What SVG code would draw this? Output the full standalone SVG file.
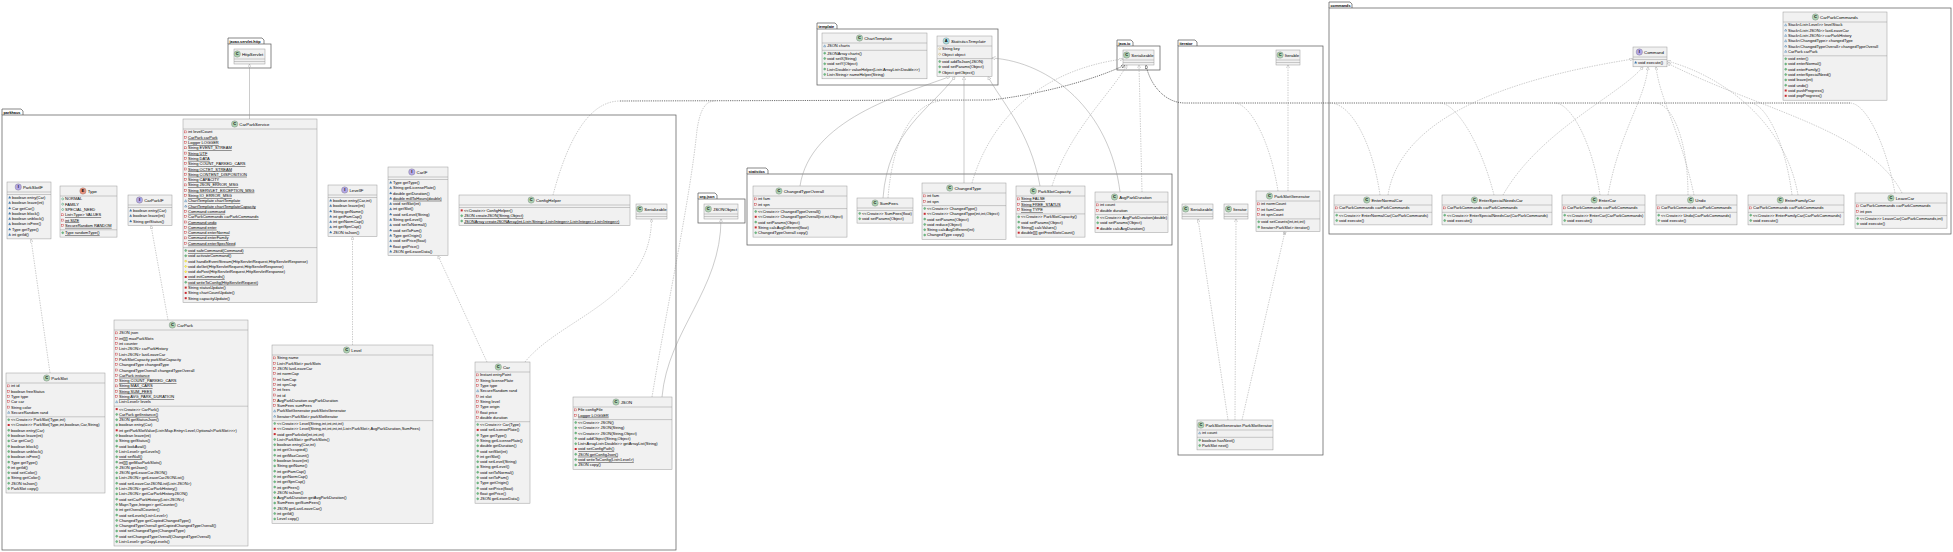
<svg xmlns="http://www.w3.org/2000/svg" xmlns:xlink="http://www.w3.org/1999/xlink" width="1953" height="552" viewBox="0 0 1953 552">
<style>
.b{fill:#F1F1F1;stroke:#9A9A9A;stroke-width:.5}
.s{stroke:#9A9A9A;stroke-width:.5}
.h{font-family:"Liberation Sans",Arial,sans-serif;font-size:4.3px;fill:#000}
.t{font-family:"Liberation Sans",Arial,sans-serif;font-size:4px;fill:#000}
.u{text-decoration:underline}
.it{font-style:italic}
.pk{fill:none;stroke:#555;stroke-width:.7}
.tab{fill:#fff;stroke:#555;stroke-width:.7}
.pl{font-family:"Liberation Sans",Arial,sans-serif;font-size:3.8px;font-weight:bold;fill:#000}
.c{fill:none;stroke:#8C8C8C;stroke-width:.45}
.d{stroke-dasharray:1.4 1.1}
.bd{fill:none;stroke:#333;stroke-width:.7;stroke-dasharray:1.2 1}
.il{font-family:"Liberation Sans",Arial,sans-serif;font-size:4px;font-weight:bold;fill:#000;text-anchor:middle}
</style>
<defs>
<marker id="t" viewBox="0 0 10 10" refX="9.5" refY="5" markerWidth="3.6" markerHeight="3.6" markerUnits="userSpaceOnUse" orient="auto"><path d="M0.5,0.5 L9.5,5 L0.5,9.5 Z" fill="#fff" stroke="#888" stroke-width="0.9"/></marker>
<marker id="td" viewBox="0 0 10 10" refX="9.5" refY="5" markerWidth="3.8" markerHeight="3.8" markerUnits="userSpaceOnUse" orient="auto"><path d="M0.5,0.5 L9.5,5 L0.5,9.5 Z" fill="#fff" stroke="#222" stroke-width="1.2"/></marker>
<marker id="cp" viewBox="0 0 10 10" refX="10" refY="5" markerWidth="3.6" markerHeight="3.6" markerUnits="userSpaceOnUse" orient="auto"><circle cx="5" cy="5" r="4.5" fill="#fff" stroke="#888"/><path d="M5,1 V9 M1,5 H9" stroke="#888"/></marker>
<g id="kC"><circle r="3.2" fill="#ADD1B2" stroke="#6A6A6A" stroke-width=".3"/><text class="il" y="1.4">C</text></g>
<g id="kI"><circle r="3.2" fill="#B4A7E5" stroke="#6A6A6A" stroke-width=".3"/><text class="il" y="1.4">I</text></g>
<g id="kE"><circle r="3.2" fill="#EB937F" stroke="#6A6A6A" stroke-width=".3"/><text class="il" y="1.4">E</text></g>
<g id="kA"><circle r="3.2" fill="#A9DCDF" stroke="#6A6A6A" stroke-width=".3"/><text class="il" y="1.4">A</text></g>
<rect id="pf" x="-1" y="-1" width="2" height="2" fill="none" stroke="#C82930" stroke-width=".4"/>
<rect id="pm" x="-1" y="-1" width="2" height="2" fill="#C82930"/>
<circle id="gm" r="1" fill="#84BE84" stroke="#038048" stroke-width=".3"/>
<circle id="gf" r="1" fill="none" stroke="#038048" stroke-width=".4"/>
<path id="km" d="M0,-1.1 L1.1,0.9 L-1.1,0.9Z" fill="#4177AF" stroke="#1963A0" stroke-width=".3"/>
<path id="kf" d="M0,-1.1 L1.1,0.9 L-1.1,0.9Z" fill="none" stroke="#1963A0" stroke-width=".4"/>
<path id="ym" d="M0,-1.2 L1.2,0 L0,1.2 L-1.2,0Z" fill="#FFFF44" stroke="#B38D22" stroke-width=".3"/>
<path id="yf" d="M0,-1.2 L1.2,0 L0,1.2 L-1.2,0Z" fill="none" stroke="#B38D22" stroke-width=".4"/>
</defs>
<rect width="1953" height="552" fill="#fff"/>

<g id="packages">
<g id="pkg-javax-servlet-http"><path class="tab" d="M228,44 V38 H262 L264,40 V44"/><text class="pl" x="229.5" y="42.6">javax.servlet.http</text><rect class="pk" x="228" y="44" width="43" height="24"/></g>
<g id="pkg-parkhaus"><path class="tab" d="M2,115 V109 H21 L23,111 V115"/><text class="pl" x="3.5" y="113.6">parkhaus</text><rect class="pk" x="2" y="115" width="674" height="435"/></g>
<g id="pkg-template"><path class="tab" d="M817,29 V23 H835 L837,25 V29"/><text class="pl" x="818.5" y="27.6">template</text><rect class="pk" x="817" y="29" width="181" height="56"/></g>
<g id="pkg-statistics"><path class="tab" d="M747,174 V168 H766 L768,170 V174"/><text class="pl" x="748.5" y="172.6">statistics</text><rect class="pk" x="747" y="174" width="425" height="71"/></g>
<g id="pkg-org-json"><path class="tab" d="M698,199 V193 H715 L717,195 V199"/><text class="pl" x="699.5" y="197.6">org.json</text><rect class="pk" x="698" y="199" width="47" height="24"/></g>
<g id="pkg-java-io"><path class="tab" d="M1117,46 V40 H1131 L1133,42 V46"/><text class="pl" x="1118.5" y="44.6">java.io</text><rect class="pk" x="1117" y="46" width="43" height="24"/></g>
<g id="pkg-iterator"><path class="tab" d="M1178,46 V40 H1195 L1197,42 V46"/><text class="pl" x="1179.5" y="44.6">iterator</text><rect class="pk" x="1178" y="46" width="145" height="409"/></g>
<g id="pkg-commands"><path class="tab" d="M1329,8 V2 H1350 L1352,4 V8"/><text class="pl" x="1330.5" y="6.6">commands</text><rect class="pk" x="1329" y="8" width="622" height="226"/></g>
</g>

<g id="connectors">
<path class="c" d="M249.5,119 L249.5,64" marker-end="url(#t)"/>
<path class="c d" d="M50,373 L31,239" marker-end="url(#t)"/>
<path class="c d" d="M168,320 L151,225.4" marker-end="url(#t)"/>
<path class="c d" d="M352.5,345 L352.5,236.6" marker-end="url(#t)"/>
<path class="c d" d="M487,362 L438,255.7" marker-end="url(#t)"/>
<path class="c d" d="M525,362 C560,318 651,300 651.5,219" marker-end="url(#t)"/>
<path class="c" d="M662,397 C668,330 721,290 721,219" marker-end="url(#t)"/>
<path class="c d" d="M652,397 C668,300 690,200 697,130 C700,110 705,101 715,101"/>
<path class="c d" d="M553,195 C565,150 585,101 620,101"/>
<path class="bd" d="M620,101 L990,100 C1030,96 1090,82 1125,65" marker-end="url(#td)"/>
<path class="bd" d="M1850,103 L1185,103 C1165,103 1150,85 1146,65" marker-end="url(#td)"/>
<path class="c" d="M800,186 C810,120 900,95 950,76.5" marker-end="url(#t)"/>
<path class="c" d="M883,198 C888,130 930,110 955,76.5" marker-end="url(#t)"/>
<path class="c d" d="M888,198 C893,135 915,104 940,101"/>
<path class="c" d="M964,183 L964,76.5" marker-end="url(#t)"/>
<path class="c d" d="M972,183 C990,120 1040,70 1123,59" marker-end="url(#t)"/>
<path class="c" d="M1040,186 C1030,130 1000,100 988,76.5" marker-end="url(#t)"/>
<path class="c d" d="M1052,186 C1070,130 1110,95 1127,65" marker-end="url(#t)"/>
<path class="c" d="M1120,192 C1110,110 1050,62 992,58" marker-end="url(#t)"/>
<path class="c d" d="M1142,192 L1139,65" marker-end="url(#t)"/>
<path class="c d" d="M1288,191 L1288,65" marker-end="url(#t)"/>
<path class="c d" d="M1278,191 C1270,140 1250,104 1235,103"/>
<path class="c d" d="M1228,420 L1198,219" marker-end="url(#t)"/>
<path class="c d" d="M1235,420 L1236,219" marker-end="url(#t)"/>
<path class="c d" d="M1242,420 L1285,231.5" marker-end="url(#cp)"/>
<path class="c d" d="M1388,195 C1400,120 1500,80 1633,59" marker-end="url(#t)"/>
<path class="c d" d="M1380,195 C1372,140 1350,103 1330,103"/>
<path class="c d" d="M1503,195 C1540,130 1620,95 1643,66.8" marker-end="url(#t)"/>
<path class="c d" d="M1494,195 C1480,140 1455,103 1440,103"/>
<path class="c d" d="M1608,195 C1620,130 1645,100 1648,66.8" marker-end="url(#t)"/>
<path class="c d" d="M1600,195 C1592,140 1570,103 1555,103"/>
<path class="c d" d="M1694,195 C1680,130 1660,100 1656,66.8" marker-end="url(#t)"/>
<path class="c d" d="M1688,195 C1688,140 1672,103 1655,103"/>
<path class="c d" d="M1798,195 C1785,120 1720,75 1667,61" marker-end="url(#t)"/>
<path class="c d" d="M1792,195 C1785,140 1765,103 1750,103"/>
<path class="c d" d="M1902,193 C1870,130 1760,110 1667,63" marker-end="url(#t)"/>
<path class="c d" d="M1895,193 C1885,140 1865,103 1850,103"/>
</g>

<g id="HttpServlet" transform="translate(234,49)"><rect class="b" width="31" height="15"/><use href="#kC" x="3.25" y="5"/><text class="h" x="7.95" y="6.6">HttpServlet</text><line class="s" x1="0" y1="10" x2="31" y2="10"/><line class="s" x1="0" y1="12.5" x2="31" y2="12.5"/></g>

<g id="CarParkService" transform="translate(183,119)"><rect class="b" width="134" height="183.6"/><use href="#kC" x="51.65" y="5"/><text class="h" x="56.35" y="6.6">CarParkService</text><line class="s" x1="0" y1="10" x2="134" y2="10"/><line class="s" x1="0" y1="128.6" x2="134" y2="128.6"/>
<g transform="translate(0,10)">
<use href="#pf" x="2.7" y="2.9"/><text class="t" x="5" y="4.4">int levelCount</text>
<use href="#pf" x="2.7" y="8.2"/><text class="t u" x="5" y="9.7">CarPark carPark</text>
<use href="#pf" x="2.7" y="13.5"/><text class="t u" x="5" y="15">Logger LOGGER</text>
<use href="#pf" x="2.7" y="18.8"/><text class="t u" x="5" y="20.3">String EVENT_STREAM</text>
<use href="#pf" x="2.7" y="24.1"/><text class="t u" x="5" y="25.6">String UTF</text>
<use href="#pf" x="2.7" y="29.4"/><text class="t u" x="5" y="30.9">String DATA</text>
<use href="#pf" x="2.7" y="34.7"/><text class="t u" x="5" y="36.2">String COUNT_PARKED_CARS</text>
<use href="#pf" x="2.7" y="40"/><text class="t u" x="5" y="41.5">String OCTET_STREAM</text>
<use href="#pf" x="2.7" y="45.3"/><text class="t u" x="5" y="46.8">String CONTENT_DISPOSITION</text>
<use href="#pf" x="2.7" y="50.6"/><text class="t u" x="5" y="52.1">String CAPACITY</text>
<use href="#pf" x="2.7" y="55.9"/><text class="t u" x="5" y="57.4">String JSON_ERROR_MSG</text>
<use href="#pf" x="2.7" y="61.2"/><text class="t u" x="5" y="62.7">String SERVLET_EXCEPTION_MSG</text>
<use href="#pf" x="2.7" y="66.5"/><text class="t u" x="5" y="68">String IO_ERROR_MSG</text>
<use href="#kf" x="2.7" y="71.8"/><text class="t u" x="5" y="73.3">ChartTemplate chartTemplate</text>
<use href="#kf" x="2.7" y="77.1"/><text class="t u" x="5" y="78.6">ChartTemplate chartTemplateCapacity</text>
<use href="#pf" x="2.7" y="82.4"/><text class="t u" x="5" y="83.9">Command command</text>
<use href="#pf" x="2.7" y="87.7"/><text class="t u" x="5" y="89.2">CarParkCommands carParkCommands</text>
<use href="#pf" x="2.7" y="93"/><text class="t u" x="5" y="94.5">Command undo</text>
<use href="#pf" x="2.7" y="98.3"/><text class="t u" x="5" y="99.8">Command enter</text>
<use href="#pf" x="2.7" y="103.6"/><text class="t u" x="5" y="105.1">Command enterNormal</text>
<use href="#pf" x="2.7" y="108.9"/><text class="t u" x="5" y="110.4">Command enterFamily</text>
<use href="#pf" x="2.7" y="114.2"/><text class="t u" x="5" y="115.7">Command enterSpecNeed</text>
</g>
<g transform="translate(0,128.6)">
<use href="#gm" x="2.7" y="2.9"/><text class="t u" x="5" y="4.4">void safeCommand(Command)</text>
<use href="#gm" x="2.7" y="8.2"/><text class="t" x="5" y="9.7">void activateCommand()</text>
<use href="#ym" x="2.7" y="13.5"/><text class="t" x="5" y="15">void handleEventStream(HttpServletRequest,HttpServletResponse)</text>
<use href="#ym" x="2.7" y="18.8"/><text class="t" x="5" y="20.3">void doGet(HttpServletRequest,HttpServletResponse)</text>
<use href="#ym" x="2.7" y="24.1"/><text class="t" x="5" y="25.6">void doPost(HttpServletRequest,HttpServletResponse)</text>
<use href="#pm" x="2.7" y="29.4"/><text class="t u" x="5" y="30.9">void initCommands()</text>
<use href="#gm" x="2.7" y="34.7"/><text class="t u" x="5" y="36.2">void writeToConfig(HttpServletRequest)</text>
<use href="#pm" x="2.7" y="40"/><text class="t" x="5" y="41.5">String statusUpdate()</text>
<use href="#pm" x="2.7" y="45.3"/><text class="t" x="5" y="46.8">String chartCountUpdate()</text>
<use href="#pm" x="2.7" y="50.6"/><text class="t" x="5" y="52.1">String capacityUpdate()</text>
</g></g>

<g id="ParkSlotIF" transform="translate(7,182)"><rect class="b" width="44" height="56.9"/><use href="#kI" x="11.25" y="5"/><text class="h" x="15.95" y="6.6">ParkSlotIF</text><line class="s" x1="0" y1="10" x2="44" y2="10"/><line class="s" x1="0" y1="12.5" x2="44" y2="12.5"/>
<g transform="translate(0,12.5)">
<use href="#km" x="2.7" y="2.9"/><text class="t" x="5" y="4.4">boolean entry(Car)</text>
<use href="#km" x="2.7" y="8.2"/><text class="t" x="5" y="9.7">boolean leave(int)</text>
<use href="#km" x="2.7" y="13.5"/><text class="t" x="5" y="15">Car getCar()</text>
<use href="#km" x="2.7" y="18.8"/><text class="t" x="5" y="20.3">boolean block()</text>
<use href="#km" x="2.7" y="24.1"/><text class="t" x="5" y="25.6">boolean unblock()</text>
<use href="#km" x="2.7" y="29.4"/><text class="t" x="5" y="30.9">boolean isFree()</text>
<use href="#km" x="2.7" y="34.7"/><text class="t" x="5" y="36.2">Type getType()</text>
<use href="#km" x="2.7" y="40"/><text class="t" x="5" y="41.5">int getId()</text>
</g></g>

<g id="Type" transform="translate(60,186)"><rect class="b" width="57" height="51.1"/><use href="#kE" x="22.95" y="5"/><text class="h" x="27.65" y="6.6">Type</text><line class="s" x1="0" y1="10" x2="57" y2="10"/><line class="s" x1="0" y1="43.8" x2="57" y2="43.8"/>
<g transform="translate(0,10)">
<use href="#gf" x="2.7" y="2.9"/><text class="t" x="5" y="4.4">NORMAL</text>
<use href="#gf" x="2.7" y="8.2"/><text class="t" x="5" y="9.7">FAMILY</text>
<use href="#gf" x="2.7" y="13.5"/><text class="t" x="5" y="15">SPECIAL_NEED</text>
<use href="#pf" x="2.7" y="18.8"/><text class="t u" x="5" y="20.3">List&lt;Type&gt; VALUES</text>
<use href="#pf" x="2.7" y="24.1"/><text class="t u" x="5" y="25.6">int SIZE</text>
<use href="#pf" x="2.7" y="29.4"/><text class="t u" x="5" y="30.9">SecureRandom RANDOM</text>
</g>
<g transform="translate(0,43.8)"><use href="#gm" x="2.7" y="2.9"/><text class="t u" x="5" y="4.4">Type randomType()</text></g></g>

<g id="CarParkIF" transform="translate(128,195)"><rect class="b" width="44" height="30.4"/><use href="#kI" x="11.45" y="5"/><text class="h" x="16.15" y="6.6">CarParkIF</text><line class="s" x1="0" y1="10" x2="44" y2="10"/><line class="s" x1="0" y1="12.5" x2="44" y2="12.5"/>
<g transform="translate(0,12.5)">
<use href="#km" x="2.7" y="2.9"/><text class="t" x="5" y="4.4">boolean entry(Car)</text>
<use href="#km" x="2.7" y="8.2"/><text class="t" x="5" y="9.7">boolean leave(int)</text>
<use href="#km" x="2.7" y="13.5"/><text class="t" x="5" y="15">String getStatus()</text>
</g></g>

<g id="LevelIF" transform="translate(328,185)"><rect class="b" width="49" height="51.6"/><use href="#kI" x="16.7" y="5"/><text class="h" x="21.4" y="6.6">LevelIF</text><line class="s" x1="0" y1="10" x2="49" y2="10"/><line class="s" x1="0" y1="12.5" x2="49" y2="12.5"/>
<g transform="translate(0,12.5)">
<use href="#km" x="2.7" y="2.9"/><text class="t" x="5" y="4.4">boolean entry(Car,int)</text>
<use href="#km" x="2.7" y="8.2"/><text class="t" x="5" y="9.7">boolean leave(int)</text>
<use href="#km" x="2.7" y="13.5"/><text class="t" x="5" y="15">String getName()</text>
<use href="#km" x="2.7" y="18.8"/><text class="t" x="5" y="20.3">int getFamCap()</text>
<use href="#km" x="2.7" y="24.1"/><text class="t" x="5" y="25.6">int getNormCap()</text>
<use href="#km" x="2.7" y="29.4"/><text class="t" x="5" y="30.9">int getSpnCap()</text>
<use href="#km" x="2.7" y="34.7"/><text class="t" x="5" y="36.2">JSON toJson()</text>
</g></g>

<g id="CarIF" transform="translate(388,167)"><rect class="b" width="60" height="88.7"/><use href="#kI" x="23.85" y="5"/><text class="h" x="28.55" y="6.6">CarIF</text><line class="s" x1="0" y1="10" x2="60" y2="10"/><line class="s" x1="0" y1="12.5" x2="60" y2="12.5"/>
<g transform="translate(0,12.5)">
<use href="#km" x="2.7" y="2.9"/><text class="t" x="5" y="4.4">Type getType()</text>
<use href="#km" x="2.7" y="8.2"/><text class="t" x="5" y="9.7">String getLicensePlate()</text>
<use href="#km" x="2.7" y="13.5"/><text class="t" x="5" y="15">double getDuration()</text>
<use href="#km" x="2.7" y="18.8"/><text class="t u" x="5" y="20.3">double millToHours(double)</text>
<use href="#km" x="2.7" y="24.1"/><text class="t" x="5" y="25.6">void setSlot(int)</text>
<use href="#km" x="2.7" y="29.4"/><text class="t" x="5" y="30.9">int getSlot()</text>
<use href="#km" x="2.7" y="34.7"/><text class="t" x="5" y="36.2">void setLevel(String)</text>
<use href="#km" x="2.7" y="40"/><text class="t" x="5" y="41.5">String getLevel()</text>
<use href="#km" x="2.7" y="45.3"/><text class="t" x="5" y="46.8">void setToNormal()</text>
<use href="#km" x="2.7" y="50.6"/><text class="t" x="5" y="52.1">void setToFam()</text>
<use href="#km" x="2.7" y="55.9"/><text class="t" x="5" y="57.4">Type getOrigin()</text>
<use href="#km" x="2.7" y="61.2"/><text class="t" x="5" y="62.7">void setPrice(float)</text>
<use href="#km" x="2.7" y="66.5"/><text class="t" x="5" y="68">float getPrice()</text>
<use href="#km" x="2.7" y="71.8"/><text class="t" x="5" y="73.3">JSON getLeaveData()</text>
</g></g>

<g id="ConfigHelper" transform="translate(459,195)"><rect class="b" width="171" height="30.4"/><use href="#kC" x="72.2" y="5"/><text class="h" x="76.9" y="6.6">ConfigHelper</text><line class="s" x1="0" y1="10" x2="171" y2="10"/><line class="s" x1="0" y1="12.5" x2="171" y2="12.5"/>
<g transform="translate(0,12.5)">
<use href="#pm" x="2.7" y="2.9"/><text class="t" x="5" y="4.4">&lt;&lt;Create&gt;&gt; ConfigHelper()</text>
<use href="#gm" x="2.7" y="8.2"/><text class="t u" x="5" y="9.7">JSON createJSON(String,Object)</text>
<use href="#gm" x="2.7" y="13.5"/><text class="t u" x="5" y="15">JSONArray createJSONArray(int,List&lt;String&gt;,List&lt;Integer&gt;,List&lt;Integer&gt;,List&lt;Integer&gt;)</text>
</g></g>

<g id="Serializable-parkhaus" transform="translate(636,204)"><rect class="b" width="31" height="15"/><use href="#kC" x="3.65" y="5"/><text class="h" x="8.35" y="6.6">Serializable</text><line class="s" x1="0" y1="10" x2="31" y2="10"/><line class="s" x1="0" y1="12.5" x2="31" y2="12.5"/></g>

<g id="ParkSlot" transform="translate(6,373)"><rect class="b" width="99" height="120"/><use href="#kC" x="40.65" y="5"/><text class="h" x="45.35" y="6.6">ParkSlot</text><line class="s" x1="0" y1="10" x2="99" y2="10"/><line class="s" x1="0" y1="43.8" x2="99" y2="43.8"/>
<g transform="translate(0,10)">
<use href="#pf" x="2.7" y="2.9"/><text class="t" x="5" y="4.4">int id</text>
<use href="#pf" x="2.7" y="8.2"/><text class="t" x="5" y="9.7">boolean freeStatus</text>
<use href="#pf" x="2.7" y="13.5"/><text class="t" x="5" y="15">Type type</text>
<use href="#pf" x="2.7" y="18.8"/><text class="t" x="5" y="20.3">Car car</text>
<use href="#pf" x="2.7" y="24.1"/><text class="t" x="5" y="25.6">String color</text>
<use href="#kf" x="2.7" y="29.4"/><text class="t" x="5" y="30.9">SecureRandom rand</text>
</g>
<g transform="translate(0,43.8)">
<use href="#gm" x="2.7" y="2.9"/><text class="t" x="5" y="4.4">&lt;&lt;Create&gt;&gt; ParkSlot(Type,int)</text>
<use href="#pm" x="2.7" y="8.2"/><text class="t" x="5" y="9.7">&lt;&lt;Create&gt;&gt; ParkSlot(Type,int,boolean,Car,String)</text>
<use href="#gm" x="2.7" y="13.5"/><text class="t" x="5" y="15">boolean entry(Car)</text>
<use href="#gm" x="2.7" y="18.8"/><text class="t" x="5" y="20.3">boolean leave(int)</text>
<use href="#gm" x="2.7" y="24.1"/><text class="t" x="5" y="25.6">Car getCar()</text>
<use href="#gm" x="2.7" y="29.4"/><text class="t" x="5" y="30.9">boolean block()</text>
<use href="#gm" x="2.7" y="34.7"/><text class="t" x="5" y="36.2">boolean unblock()</text>
<use href="#gm" x="2.7" y="40"/><text class="t" x="5" y="41.5">boolean isFree()</text>
<use href="#gm" x="2.7" y="45.3"/><text class="t" x="5" y="46.8">Type getType()</text>
<use href="#gm" x="2.7" y="50.6"/><text class="t" x="5" y="52.1">int getId()</text>
<use href="#gm" x="2.7" y="55.9"/><text class="t" x="5" y="57.4">void setColor()</text>
<use href="#gm" x="2.7" y="61.2"/><text class="t" x="5" y="62.7">String getColor()</text>
<use href="#gm" x="2.7" y="66.5"/><text class="t" x="5" y="68">JSON toJson()</text>
<use href="#gm" x="2.7" y="71.8"/><text class="t" x="5" y="73.3">ParkSlot copy()</text>
</g></g>

<g id="CarPark" transform="translate(114,320)"><rect class="b" width="134" height="226"/><use href="#kC" x="58.35" y="5"/><text class="h" x="63.05" y="6.6">CarPark</text><line class="s" x1="0" y1="10" x2="134" y2="10"/><line class="s" x1="0" y1="86.2" x2="134" y2="86.2"/>
<g transform="translate(0,10)">
<use href="#pf" x="2.7" y="2.9"/><text class="t" x="5" y="4.4">JSON json</text>
<use href="#pf" x="2.7" y="8.2"/><text class="t" x="5" y="9.7">int[][] maxParkSlots</text>
<use href="#pf" x="2.7" y="13.5"/><text class="t" x="5" y="15">int counter</text>
<use href="#pf" x="2.7" y="18.8"/><text class="t" x="5" y="20.3">List&lt;JSON&gt; carParkHistory</text>
<use href="#pf" x="2.7" y="24.1"/><text class="t" x="5" y="25.6">List&lt;JSON&gt; lastLeaveCar</text>
<use href="#pf" x="2.7" y="29.4"/><text class="t" x="5" y="30.9">ParkSlotCapacity parkSlotCapacity</text>
<use href="#pf" x="2.7" y="34.7"/><text class="t" x="5" y="36.2">ChangedType changedType</text>
<use href="#pf" x="2.7" y="40"/><text class="t" x="5" y="41.5">ChangedTypeOverall changedTypeOverall</text>
<use href="#pf" x="2.7" y="45.3"/><text class="t u" x="5" y="46.8">CarPark instance</text>
<use href="#pf" x="2.7" y="50.6"/><text class="t u" x="5" y="52.1">String COUNT_PARKED_CARS</text>
<use href="#pf" x="2.7" y="55.9"/><text class="t u" x="5" y="57.4">String MAX_CARS</text>
<use href="#pf" x="2.7" y="61.2"/><text class="t u" x="5" y="62.7">String SUM_FEES</text>
<use href="#pf" x="2.7" y="66.5"/><text class="t u" x="5" y="68">String AVG_PARK_DURATION</text>
<use href="#kf" x="2.7" y="71.8"/><text class="t" x="5" y="73.3">List&lt;Level&gt; levels</text>
</g>
<g transform="translate(0,86.2)">
<use href="#pm" x="2.7" y="2.9"/><text class="t" x="5" y="4.4">&lt;&lt;Create&gt;&gt; CarPark()</text>
<use href="#gm" x="2.7" y="8.2"/><text class="t u" x="5" y="9.7">CarPark getInstance()</text>
<use href="#gm" x="2.7" y="13.5"/><text class="t" x="5" y="15">JSON getStatusJson()</text>
<use href="#gm" x="2.7" y="18.8"/><text class="t" x="5" y="20.3">boolean entry(Car)</text>
<use href="#pm" x="2.7" y="24.1"/><text class="t" x="5" y="25.6">int getParkSlotValue(List&lt;Map.Entry&lt;Level,Optional&lt;ParkSlot&gt;&gt;&gt;)</text>
<use href="#gm" x="2.7" y="29.4"/><text class="t" x="5" y="30.9">boolean leave(int)</text>
<use href="#gm" x="2.7" y="34.7"/><text class="t" x="5" y="36.2">String getStatus()</text>
<use href="#gm" x="2.7" y="40"/><text class="t" x="5" y="41.5">void lookAvail()</text>
<use href="#gm" x="2.7" y="45.3"/><text class="t" x="5" y="46.8">List&lt;Level&gt; getLevels()</text>
<use href="#gm" x="2.7" y="50.6"/><text class="t u" x="5" y="52.1">void setNull()</text>
<use href="#gm" x="2.7" y="55.9"/><text class="t" x="5" y="57.4">int[][] getMaxParkSlots()</text>
<use href="#gm" x="2.7" y="61.2"/><text class="t" x="5" y="62.7">JSON getJson()</text>
<use href="#gm" x="2.7" y="66.5"/><text class="t" x="5" y="68">JSON getLeaveCarJSON()</text>
<use href="#gm" x="2.7" y="71.8"/><text class="t" x="5" y="73.3">List&lt;JSON&gt; getLeaveCarJSONList()</text>
<use href="#gm" x="2.7" y="77.1"/><text class="t" x="5" y="78.6">void setLeaveCarJSONList(List&lt;JSON&gt;)</text>
<use href="#gm" x="2.7" y="82.4"/><text class="t" x="5" y="83.9">List&lt;JSON&gt; getCarParkHistory()</text>
<use href="#gm" x="2.7" y="87.7"/><text class="t" x="5" y="89.2">List&lt;JSON&gt; getCarParkHistoryJSON()</text>
<use href="#gm" x="2.7" y="93"/><text class="t" x="5" y="94.5">void setCarParkHistory(List&lt;JSON&gt;)</text>
<use href="#gm" x="2.7" y="98.3"/><text class="t" x="5" y="99.8">Map&lt;Type,Integer&gt; getCounter()</text>
<use href="#gm" x="2.7" y="103.6"/><text class="t" x="5" y="105.1">int getOverallCounter()</text>
<use href="#gm" x="2.7" y="108.9"/><text class="t" x="5" y="110.4">void setLevels(List&lt;Level&gt;)</text>
<use href="#gm" x="2.7" y="114.2"/><text class="t" x="5" y="115.7">ChangedType getCopiedChangedType()</text>
<use href="#gm" x="2.7" y="119.5"/><text class="t" x="5" y="121">ChangedTypeOverall getCopiedChangedTypeOverall()</text>
<use href="#gm" x="2.7" y="124.8"/><text class="t" x="5" y="126.3">void setChangedType(ChangedType)</text>
<use href="#gm" x="2.7" y="130.1"/><text class="t" x="5" y="131.6">void setChangedTypeOverall(ChangedTypeOverall)</text>
<use href="#gm" x="2.7" y="135.4"/><text class="t" x="5" y="136.9">List&lt;Level&gt; getCopyLevels()</text>
</g></g>

<g id="Level" transform="translate(272,345)"><rect class="b" width="161" height="178.3"/><use href="#kC" x="74.6" y="5"/><text class="h" x="79.3" y="6.6">Level</text><line class="s" x1="0" y1="10" x2="161" y2="10"/><line class="s" x1="0" y1="75.6" x2="161" y2="75.6"/>
<g transform="translate(0,10)">
<use href="#pf" x="2.7" y="2.9"/><text class="t" x="5" y="4.4">String name</text>
<use href="#pf" x="2.7" y="8.2"/><text class="t" x="5" y="9.7">List&lt;ParkSlot&gt; parkSlots</text>
<use href="#pf" x="2.7" y="13.5"/><text class="t" x="5" y="15">JSON lastLeaveCar</text>
<use href="#pf" x="2.7" y="18.8"/><text class="t" x="5" y="20.3">int normCap</text>
<use href="#pf" x="2.7" y="24.1"/><text class="t" x="5" y="25.6">int famCap</text>
<use href="#pf" x="2.7" y="29.4"/><text class="t" x="5" y="30.9">int spnCap</text>
<use href="#pf" x="2.7" y="34.7"/><text class="t" x="5" y="36.2">int fees</text>
<use href="#pf" x="2.7" y="40"/><text class="t" x="5" y="41.5">int id</text>
<use href="#pf" x="2.7" y="45.3"/><text class="t" x="5" y="46.8">AvgParkDuration avgParkDuration</text>
<use href="#pf" x="2.7" y="50.6"/><text class="t" x="5" y="52.1">SumFees sumFees</text>
<use href="#kf" x="2.7" y="55.9"/><text class="t" x="5" y="57.4">ParkSlotGenerator parkSlotsGenerator</text>
<use href="#kf" x="2.7" y="61.2"/><text class="t" x="5" y="62.7">Iterator&lt;ParkSlot&gt; parkSlotIterator</text>
</g>
<g transform="translate(0,75.6)">
<use href="#gm" x="2.7" y="2.9"/><text class="t" x="5" y="4.4">&lt;&lt;Create&gt;&gt; Level(String,int,int,int,int)</text>
<use href="#pm" x="2.7" y="8.2"/><text class="t" x="5" y="9.7">&lt;&lt;Create&gt;&gt; Level(String,int,int,int,int,List&lt;ParkSlot&gt;,AvgParkDuration,SumFees)</text>
<use href="#pm" x="2.7" y="13.5"/><text class="t" x="5" y="15">void genParkslot(int,int,int)</text>
<use href="#gm" x="2.7" y="18.8"/><text class="t" x="5" y="20.3">List&lt;ParkSlot&gt; getParkSlots()</text>
<use href="#gm" x="2.7" y="24.1"/><text class="t" x="5" y="25.6">boolean entry(Car,int)</text>
<use href="#gm" x="2.7" y="29.4"/><text class="t" x="5" y="30.9">int getOccupied()</text>
<use href="#gm" x="2.7" y="34.7"/><text class="t" x="5" y="36.2">int getMaxCount()</text>
<use href="#gm" x="2.7" y="40"/><text class="t" x="5" y="41.5">boolean leave(int)</text>
<use href="#gm" x="2.7" y="45.3"/><text class="t" x="5" y="46.8">String getName()</text>
<use href="#gm" x="2.7" y="50.6"/><text class="t" x="5" y="52.1">int getFamCap()</text>
<use href="#gm" x="2.7" y="55.9"/><text class="t" x="5" y="57.4">int getNormCap()</text>
<use href="#gm" x="2.7" y="61.2"/><text class="t" x="5" y="62.7">int getSpnCap()</text>
<use href="#gm" x="2.7" y="66.5"/><text class="t" x="5" y="68">int getFees()</text>
<use href="#gm" x="2.7" y="71.8"/><text class="t" x="5" y="73.3">JSON toJson()</text>
<use href="#gm" x="2.7" y="77.1"/><text class="t" x="5" y="78.6">AvgParkDuration getAvgParkDuration()</text>
<use href="#gm" x="2.7" y="82.4"/><text class="t" x="5" y="83.9">SumFees getSumFees()</text>
<use href="#gm" x="2.7" y="87.7"/><text class="t" x="5" y="89.2">JSON getLastLeaveCar()</text>
<use href="#gm" x="2.7" y="93"/><text class="t" x="5" y="94.5">int getId()</text>
<use href="#gm" x="2.7" y="98.3"/><text class="t" x="5" y="99.8">Level copy()</text>
</g></g>

<g id="Car" transform="translate(475,362)"><rect class="b" width="55" height="141.2"/><use href="#kC" x="23.3" y="5"/><text class="h" x="28" y="6.6">Car</text><line class="s" x1="0" y1="10" x2="55" y2="10"/><line class="s" x1="0" y1="59.7" x2="55" y2="59.7"/>
<g transform="translate(0,10)">
<use href="#pf" x="2.7" y="2.9"/><text class="t" x="5" y="4.4">Instant entryPoint</text>
<use href="#pf" x="2.7" y="8.2"/><text class="t" x="5" y="9.7">String licensePlate</text>
<use href="#pf" x="2.7" y="13.5"/><text class="t" x="5" y="15">Type type</text>
<use href="#kf" x="2.7" y="18.8"/><text class="t" x="5" y="20.3">SecureRandom rand</text>
<use href="#pf" x="2.7" y="24.1"/><text class="t" x="5" y="25.6">int slot</text>
<use href="#pf" x="2.7" y="29.4"/><text class="t" x="5" y="30.9">String level</text>
<use href="#pf" x="2.7" y="34.7"/><text class="t" x="5" y="36.2">Type origin</text>
<use href="#pf" x="2.7" y="40"/><text class="t" x="5" y="41.5">float price</text>
<use href="#pf" x="2.7" y="45.3"/><text class="t" x="5" y="46.8">double duration</text>
</g>
<g transform="translate(0,59.7)">
<use href="#gm" x="2.7" y="2.9"/><text class="t" x="5" y="4.4">&lt;&lt;Create&gt;&gt; Car(Type)</text>
<use href="#pm" x="2.7" y="8.2"/><text class="t" x="5" y="9.7">void setLicensePlate()</text>
<use href="#gm" x="2.7" y="13.5"/><text class="t" x="5" y="15">Type getType()</text>
<use href="#gm" x="2.7" y="18.8"/><text class="t" x="5" y="20.3">String getLicensePlate()</text>
<use href="#gm" x="2.7" y="24.1"/><text class="t" x="5" y="25.6">double getDuration()</text>
<use href="#gm" x="2.7" y="29.4"/><text class="t" x="5" y="30.9">void setSlot(int)</text>
<use href="#gm" x="2.7" y="34.7"/><text class="t" x="5" y="36.2">int getSlot()</text>
<use href="#gm" x="2.7" y="40"/><text class="t" x="5" y="41.5">void setLevel(String)</text>
<use href="#gm" x="2.7" y="45.3"/><text class="t" x="5" y="46.8">String getLevel()</text>
<use href="#gm" x="2.7" y="50.6"/><text class="t" x="5" y="52.1">void setToNormal()</text>
<use href="#gm" x="2.7" y="55.9"/><text class="t" x="5" y="57.4">void setToFam()</text>
<use href="#gm" x="2.7" y="61.2"/><text class="t" x="5" y="62.7">Type getOrigin()</text>
<use href="#gm" x="2.7" y="66.5"/><text class="t" x="5" y="68">void setPrice(float)</text>
<use href="#gm" x="2.7" y="71.8"/><text class="t" x="5" y="73.3">float getPrice()</text>
<use href="#gm" x="2.7" y="77.1"/><text class="t" x="5" y="78.6">JSON getLeaveData()</text>
</g></g>

<g id="JSON" transform="translate(573,397)"><rect class="b" width="99" height="72.3"/><use href="#kC" x="43" y="5"/><text class="h" x="47.7" y="6.6">JSON</text><line class="s" x1="0" y1="10" x2="99" y2="10"/><line class="s" x1="0" y1="22.6" x2="99" y2="22.6"/>
<g transform="translate(0,10)">
<use href="#pf" x="2.7" y="2.9"/><text class="t" x="5" y="4.4">File configFile</text>
<use href="#pf" x="2.7" y="8.2"/><text class="t u" x="5" y="9.7">Logger LOGGER</text>
</g>
<g transform="translate(0,22.6)">
<use href="#gm" x="2.7" y="2.9"/><text class="t" x="5" y="4.4">&lt;&lt;Create&gt;&gt; JSON()</text>
<use href="#gm" x="2.7" y="8.2"/><text class="t" x="5" y="9.7">&lt;&lt;Create&gt;&gt; JSON(String)</text>
<use href="#gm" x="2.7" y="13.5"/><text class="t" x="5" y="15">&lt;&lt;Create&gt;&gt; JSON(String,Object)</text>
<use href="#gm" x="2.7" y="18.8"/><text class="t" x="5" y="20.3">void addObject(String,Object)</text>
<use href="#gm" x="2.7" y="24.1"/><text class="t" x="5" y="25.6">List&lt;ArrayList&lt;Double&gt;&gt; getArrayList(String)</text>
<use href="#pm" x="2.7" y="29.4"/><text class="t u" x="5" y="30.9">void setConfigPath()</text>
<use href="#gm" x="2.7" y="34.7"/><text class="t u" x="5" y="36.2">JSON getConfigJson()</text>
<use href="#gm" x="2.7" y="40"/><text class="t u" x="5" y="41.5">void writeToConfig(List&lt;Level&gt;)</text>
<use href="#gm" x="2.7" y="45.3"/><text class="t" x="5" y="46.8">JSON copy()</text>
</g></g>

<g id="JSONObject" transform="translate(704,204)"><rect class="b" width="34" height="15"/><use href="#kC" x="4.3" y="5"/><text class="h" x="9" y="6.6">JSONObject</text><line class="s" x1="0" y1="10" x2="34" y2="10"/><line class="s" x1="0" y1="12.5" x2="34" y2="12.5"/></g>

<g id="ChartTemplate" transform="translate(822,33)"><rect class="b" width="105" height="45.8"/><use href="#kC" x="37.55" y="5"/><text class="h" x="42.25" y="6.6">ChartTemplate</text><line class="s" x1="0" y1="10" x2="105" y2="10"/><line class="s" x1="0" y1="17.3" x2="105" y2="17.3"/>
<g transform="translate(0,10)"><use href="#kf" x="2.7" y="2.9"/><text class="t" x="5" y="4.4">JSON charts</text></g>
<g transform="translate(0,17.3)">
<use href="#gm" x="2.7" y="2.9"/><text class="t" x="5" y="4.4">JSONArray charts()</text>
<use href="#gm" x="2.7" y="8.2"/><text class="t" x="5" y="9.7">void setX(String)</text>
<use href="#gm" x="2.7" y="13.5"/><text class="t" x="5" y="15">void setY(Object)</text>
<use href="#gm" x="2.7" y="18.8"/><text class="t" x="5" y="20.3">List&lt;Double&gt; valueHelper(List&lt;ArrayList&lt;Double&gt;&gt;)</text>
<use href="#gm" x="2.7" y="24.1"/><text class="t" x="5" y="25.6">List&lt;String&gt; nameHelper(String)</text>
</g></g>

<g id="StatisticsTemplate" transform="translate(937,36)"><rect class="b" width="55" height="40.5"/><use href="#kA" x="9.2" y="5"/><text class="h it" x="13.9" y="6.6">StatisticsTemplate</text><line class="s" x1="0" y1="10" x2="55" y2="10"/><line class="s" x1="0" y1="22.6" x2="55" y2="22.6"/>
<g transform="translate(0,10)">
<use href="#yf" x="2.7" y="2.9"/><text class="t" x="5" y="4.4">String key</text>
<use href="#yf" x="2.7" y="8.2"/><text class="t" x="5" y="9.7">Object object</text>
</g>
<g transform="translate(0,22.6)">
<use href="#gm" x="2.7" y="2.9"/><text class="t" x="5" y="4.4">void addToJson(JSON)</text>
<use href="#gm" x="2.7" y="8.2"/><text class="t" x="5" y="9.7">void setParams(Object)</text>
<use href="#gm" x="2.7" y="13.5"/><text class="t" x="5" y="15">Object getObject()</text>
</g></g>

<g id="ChangedTypeOverall" transform="translate(753,186)"><rect class="b" width="94" height="51.1"/><use href="#kC" x="25.95" y="5"/><text class="h" x="30.65" y="6.6">ChangedTypeOverall</text><line class="s" x1="0" y1="10" x2="94" y2="10"/><line class="s" x1="0" y1="22.6" x2="94" y2="22.6"/>
<g transform="translate(0,10)">
<use href="#pf" x="2.7" y="2.9"/><text class="t" x="5" y="4.4">int fam</text>
<use href="#pf" x="2.7" y="8.2"/><text class="t" x="5" y="9.7">int spn</text>
</g>
<g transform="translate(0,22.6)">
<use href="#gm" x="2.7" y="2.9"/><text class="t" x="5" y="4.4">&lt;&lt;Create&gt;&gt; ChangedTypeOverall()</text>
<use href="#pm" x="2.7" y="8.2"/><text class="t" x="5" y="9.7">&lt;&lt;Create&gt;&gt; ChangedTypeOverall(int,int,Object)</text>
<use href="#gm" x="2.7" y="13.5"/><text class="t" x="5" y="15">void setParams(Object)</text>
<use href="#pm" x="2.7" y="18.8"/><text class="t" x="5" y="20.3">String calcAvgDifferent(float)</text>
<use href="#gm" x="2.7" y="24.1"/><text class="t" x="5" y="25.6">ChangedTypeOverall copy()</text>
</g></g>

<g id="SumFees" transform="translate(857,198)"><rect class="b" width="56" height="25.1"/><use href="#kC" x="18.05" y="5"/><text class="h" x="22.75" y="6.6">SumFees</text><line class="s" x1="0" y1="10" x2="56" y2="10"/><line class="s" x1="0" y1="12.5" x2="56" y2="12.5"/>
<g transform="translate(0,12.5)">
<use href="#gm" x="2.7" y="2.9"/><text class="t" x="5" y="4.4">&lt;&lt;Create&gt;&gt; SumFees(float)</text>
<use href="#gm" x="2.7" y="8.2"/><text class="t" x="5" y="9.7">void setParams(Object)</text>
</g></g>

<g id="ChangedType" transform="translate(922,183)"><rect class="b" width="84" height="56.4"/><use href="#kC" x="27.75" y="5"/><text class="h" x="32.45" y="6.6">ChangedType</text><line class="s" x1="0" y1="10" x2="84" y2="10"/><line class="s" x1="0" y1="22.6" x2="84" y2="22.6"/>
<g transform="translate(0,10)">
<use href="#pf" x="2.7" y="2.9"/><text class="t" x="5" y="4.4">int fam</text>
<use href="#pf" x="2.7" y="8.2"/><text class="t" x="5" y="9.7">int spn</text>
</g>
<g transform="translate(0,22.6)">
<use href="#gm" x="2.7" y="2.9"/><text class="t" x="5" y="4.4">&lt;&lt;Create&gt;&gt; ChangedType()</text>
<use href="#pm" x="2.7" y="8.2"/><text class="t" x="5" y="9.7">&lt;&lt;Create&gt;&gt; ChangedType(int,int,Object)</text>
<use href="#gm" x="2.7" y="13.5"/><text class="t" x="5" y="15">void setParams(Object)</text>
<use href="#gm" x="2.7" y="18.8"/><text class="t" x="5" y="20.3">void reduce(Object)</text>
<use href="#gm" x="2.7" y="24.1"/><text class="t" x="5" y="25.6">String calcAvgDifferent(int)</text>
<use href="#gm" x="2.7" y="29.4"/><text class="t" x="5" y="30.9">ChangedType copy()</text>
</g></g>

<g id="ParkSlotCapacity" transform="translate(1016,186)"><rect class="b" width="69" height="51.1"/><use href="#kC" x="17.25" y="5"/><text class="h" x="21.95" y="6.6">ParkSlotCapacity</text><line class="s" x1="0" y1="10" x2="69" y2="10"/><line class="s" x1="0" y1="27.9" x2="69" y2="27.9"/>
<g transform="translate(0,10)">
<use href="#pf" x="2.7" y="2.9"/><text class="t u" x="5" y="4.4">String FALSE</text>
<use href="#pf" x="2.7" y="8.2"/><text class="t u" x="5" y="9.7">String FREE_STATUS</text>
<use href="#pf" x="2.7" y="13.5"/><text class="t u" x="5" y="15">String TYPE</text>
</g>
<g transform="translate(0,27.9)">
<use href="#gm" x="2.7" y="2.9"/><text class="t" x="5" y="4.4">&lt;&lt;Create&gt;&gt; ParkSlotCapacity()</text>
<use href="#gm" x="2.7" y="8.2"/><text class="t" x="5" y="9.7">void setParams(Object)</text>
<use href="#gm" x="2.7" y="13.5"/><text class="t" x="5" y="15">String[] calcValues()</text>
<use href="#pm" x="2.7" y="18.8"/><text class="t" x="5" y="20.3">double[][] getFreeSlotsCount()</text>
</g></g>

<g id="AvgParkDuration" transform="translate(1095,192)"><rect class="b" width="73" height="40.5"/><use href="#kC" x="19.5" y="5"/><text class="h" x="24.2" y="6.6">AvgParkDuration</text><line class="s" x1="0" y1="10" x2="73" y2="10"/><line class="s" x1="0" y1="22.6" x2="73" y2="22.6"/>
<g transform="translate(0,10)">
<use href="#pf" x="2.7" y="2.9"/><text class="t" x="5" y="4.4">int count</text>
<use href="#pf" x="2.7" y="8.2"/><text class="t" x="5" y="9.7">double duration</text>
</g>
<g transform="translate(0,22.6)">
<use href="#gm" x="2.7" y="2.9"/><text class="t" x="5" y="4.4">&lt;&lt;Create&gt;&gt; AvgParkDuration(double)</text>
<use href="#gm" x="2.7" y="8.2"/><text class="t" x="5" y="9.7">void setParams(Object)</text>
<use href="#pm" x="2.7" y="13.5"/><text class="t" x="5" y="15">double calcAvgDuration()</text>
</g></g>

<g id="Serializable-java-io" transform="translate(1123,50)"><rect class="b" width="31" height="15"/><use href="#kC" x="3.65" y="5"/><text class="h" x="8.35" y="6.6">Serializable</text><line class="s" x1="0" y1="10" x2="31" y2="10"/><line class="s" x1="0" y1="12.5" x2="31" y2="12.5"/></g>

<g id="Iterable" transform="translate(1276,50)"><rect class="b" width="24" height="15"/><use href="#kC" x="4.1" y="5"/><text class="h" x="8.8" y="6.6">Iterable</text><line class="s" x1="0" y1="10" x2="24" y2="10"/><line class="s" x1="0" y1="12.5" x2="24" y2="12.5"/></g>

<g id="ParkSlotGenerator" transform="translate(1256,191)"><rect class="b" width="64" height="40.5"/><use href="#kC" x="13.45" y="5"/><text class="h" x="18.15" y="6.6">ParkSlotGenerator</text><line class="s" x1="0" y1="10" x2="64" y2="10"/><line class="s" x1="0" y1="27.9" x2="64" y2="27.9"/>
<g transform="translate(0,10)">
<use href="#pf" x="2.7" y="2.9"/><text class="t" x="5" y="4.4">int normCount</text>
<use href="#pf" x="2.7" y="8.2"/><text class="t" x="5" y="9.7">int famCount</text>
<use href="#pf" x="2.7" y="13.5"/><text class="t" x="5" y="15">int spnCount</text>
</g>
<g transform="translate(0,27.9)">
<use href="#gm" x="2.7" y="2.9"/><text class="t" x="5" y="4.4">void setCounts(int,int,int)</text>
<use href="#gm" x="2.7" y="8.2"/><text class="t" x="5" y="9.7">Iterator&lt;ParkSlot&gt; iterator()</text>
</g></g>

<g id="Serializable-iterator" transform="translate(1182,204)"><rect class="b" width="31" height="15"/><use href="#kC" x="3.65" y="5"/><text class="h" x="8.35" y="6.6">Serializable</text><line class="s" x1="0" y1="10" x2="31" y2="10"/><line class="s" x1="0" y1="12.5" x2="31" y2="12.5"/></g>

<g id="Iterator" transform="translate(1224,204)"><rect class="b" width="24" height="15"/><use href="#kC" x="4.45" y="5"/><text class="h" x="9.15" y="6.6">Iterator</text><line class="s" x1="0" y1="10" x2="24" y2="10"/><line class="s" x1="0" y1="12.5" x2="24" y2="12.5"/></g>

<g id="ParkSlotIterator" transform="translate(1197,420)"><rect class="b" width="76" height="29.9"/><use href="#kC" x="3.9" y="5"/><text class="h" x="8.6" y="6.6">ParkSlotGenerator.ParkSlotIterator</text><line class="s" x1="0" y1="10" x2="76" y2="10"/><line class="s" x1="0" y1="17.3" x2="76" y2="17.3"/>
<g transform="translate(0,10)"><use href="#kf" x="2.7" y="2.9"/><text class="t" x="5" y="4.4">int count</text></g>
<g transform="translate(0,17.3)">
<use href="#gm" x="2.7" y="2.9"/><text class="t" x="5" y="4.4">boolean hasNext()</text>
<use href="#gm" x="2.7" y="8.2"/><text class="t" x="5" y="9.7">ParkSlot next()</text>
</g></g>

<g id="Command" transform="translate(1633,47)"><rect class="b" width="34" height="19.8"/><use href="#kI" x="6.35" y="5"/><text class="h" x="11.05" y="6.6">Command</text><line class="s" x1="0" y1="10" x2="34" y2="10"/><line class="s" x1="0" y1="12.5" x2="34" y2="12.5"/>
<g transform="translate(0,12.5)"><use href="#km" x="2.7" y="2.9"/><text class="t" x="5" y="4.4">void execute()</text></g></g>

<g id="CarParkCommands" transform="translate(1783,12)"><rect class="b" width="104" height="88.2"/><use href="#kC" x="32.4" y="5"/><text class="h" x="37.1" y="6.6">CarParkCommands</text><line class="s" x1="0" y1="10" x2="104" y2="10"/><line class="s" x1="0" y1="43.8" x2="104" y2="43.8"/>
<g transform="translate(0,10)">
<use href="#kf" x="2.7" y="2.9"/><text class="t" x="5" y="4.4">Stack&lt;List&lt;Level&gt;&gt; levelStack</text>
<use href="#kf" x="2.7" y="8.2"/><text class="t" x="5" y="9.7">Stack&lt;List&lt;JSON&gt;&gt; lastLeaveCar</text>
<use href="#kf" x="2.7" y="13.5"/><text class="t" x="5" y="15">Stack&lt;List&lt;JSON&gt;&gt; carParkHistory</text>
<use href="#kf" x="2.7" y="18.8"/><text class="t" x="5" y="20.3">Stack&lt;ChangedType&gt; changedType</text>
<use href="#kf" x="2.7" y="24.1"/><text class="t" x="5" y="25.6">Stack&lt;ChangedTypeOverall&gt; changedTypeOverall</text>
<use href="#kf" x="2.7" y="29.4"/><text class="t" x="5" y="30.9">CarPark carPark</text>
</g>
<g transform="translate(0,43.8)">
<use href="#gm" x="2.7" y="2.9"/><text class="t" x="5" y="4.4">void enter()</text>
<use href="#gm" x="2.7" y="8.2"/><text class="t" x="5" y="9.7">void enterNormal()</text>
<use href="#gm" x="2.7" y="13.5"/><text class="t" x="5" y="15">void enterFamily()</text>
<use href="#gm" x="2.7" y="18.8"/><text class="t" x="5" y="20.3">void enterSpecialNeed()</text>
<use href="#gm" x="2.7" y="24.1"/><text class="t" x="5" y="25.6">void leave(int)</text>
<use href="#gm" x="2.7" y="29.4"/><text class="t" x="5" y="30.9">void undo()</text>
<use href="#pm" x="2.7" y="34.7"/><text class="t" x="5" y="36.2">void pushProgress()</text>
<use href="#pm" x="2.7" y="40"/><text class="t" x="5" y="41.5">void popProgress()</text>
</g></g>

<g id="EnterNormalCar" transform="translate(1334,195)"><rect class="b" width="98" height="29.9"/><use href="#kC" x="32.75" y="5"/><text class="h" x="37.45" y="6.6">EnterNormalCar</text><line class="s" x1="0" y1="10" x2="98" y2="10"/><line class="s" x1="0" y1="17.3" x2="98" y2="17.3"/>
<g transform="translate(0,10)"><use href="#pf" x="2.7" y="2.9"/><text class="t" x="5" y="4.4">CarParkCommands carParkCommands</text></g>
<g transform="translate(0,17.3)"><use href="#gm" x="2.7" y="2.9"/><text class="t" x="5" y="4.4">&lt;&lt;Create&gt;&gt; EnterNormalCar(CarParkCommands)</text><use href="#gm" x="2.7" y="8.2"/><text class="t" x="5" y="9.7">void execute()</text></g></g>

<g id="EnterSpecialNeedsCar" transform="translate(1442,195)"><rect class="b" width="110" height="29.9"/><use href="#kC" x="32.4" y="5"/><text class="h" x="37.1" y="6.6">EnterSpecialNeedsCar</text><line class="s" x1="0" y1="10" x2="110" y2="10"/><line class="s" x1="0" y1="17.3" x2="110" y2="17.3"/>
<g transform="translate(0,10)"><use href="#pf" x="2.7" y="2.9"/><text class="t" x="5" y="4.4">CarParkCommands carParkCommands</text></g>
<g transform="translate(0,17.3)"><use href="#gm" x="2.7" y="2.9"/><text class="t" x="5" y="4.4">&lt;&lt;Create&gt;&gt; EnterSpecialNeedsCar(CarParkCommands)</text><use href="#gm" x="2.7" y="8.2"/><text class="t" x="5" y="9.7">void execute()</text></g></g>

<g id="EnterCar" transform="translate(1562,195)"><rect class="b" width="83" height="29.9"/><use href="#kC" x="32.15" y="5"/><text class="h" x="36.85" y="6.6">EnterCar</text><line class="s" x1="0" y1="10" x2="83" y2="10"/><line class="s" x1="0" y1="17.3" x2="83" y2="17.3"/>
<g transform="translate(0,10)"><use href="#pf" x="2.7" y="2.9"/><text class="t" x="5" y="4.4">CarParkCommands carParkCommands</text></g>
<g transform="translate(0,17.3)"><use href="#gm" x="2.7" y="2.9"/><text class="t" x="5" y="4.4">&lt;&lt;Create&gt;&gt; EnterCar(CarParkCommands)</text><use href="#gm" x="2.7" y="8.2"/><text class="t" x="5" y="9.7">void execute()</text></g></g>

<g id="Undo" transform="translate(1656,195)"><rect class="b" width="81" height="29.9"/><use href="#kC" x="34.6" y="5"/><text class="h" x="39.3" y="6.6">Undo</text><line class="s" x1="0" y1="10" x2="81" y2="10"/><line class="s" x1="0" y1="17.3" x2="81" y2="17.3"/>
<g transform="translate(0,10)"><use href="#pf" x="2.7" y="2.9"/><text class="t" x="5" y="4.4">CarParkCommands carParkCommands</text></g>
<g transform="translate(0,17.3)"><use href="#gm" x="2.7" y="2.9"/><text class="t" x="5" y="4.4">&lt;&lt;Create&gt;&gt; Undo(CarParkCommands)</text><use href="#gm" x="2.7" y="8.2"/><text class="t" x="5" y="9.7">void execute()</text></g></g>

<g id="EnterFamilyCar" transform="translate(1748,195)"><rect class="b" width="96" height="29.9"/><use href="#kC" x="32.3" y="5"/><text class="h" x="37" y="6.6">EnterFamilyCar</text><line class="s" x1="0" y1="10" x2="96" y2="10"/><line class="s" x1="0" y1="17.3" x2="96" y2="17.3"/>
<g transform="translate(0,10)"><use href="#pf" x="2.7" y="2.9"/><text class="t" x="5" y="4.4">CarParkCommands carParkCommands</text></g>
<g transform="translate(0,17.3)"><use href="#gm" x="2.7" y="2.9"/><text class="t" x="5" y="4.4">&lt;&lt;Create&gt;&gt; EnterFamilyCar(CarParkCommands)</text><use href="#gm" x="2.7" y="8.2"/><text class="t" x="5" y="9.7">void execute()</text></g></g>

<g id="LeaveCar" transform="translate(1855,193)"><rect class="b" width="92" height="35.2"/><use href="#kC" x="35.95" y="5"/><text class="h" x="40.65" y="6.6">LeaveCar</text><line class="s" x1="0" y1="10" x2="92" y2="10"/><line class="s" x1="0" y1="22.6" x2="92" y2="22.6"/>
<g transform="translate(0,10)"><use href="#pf" x="2.7" y="2.9"/><text class="t" x="5" y="4.4">CarParkCommands carParkCommands</text><use href="#pf" x="2.7" y="8.2"/><text class="t" x="5" y="9.7">int pos</text></g>
<g transform="translate(0,22.6)"><use href="#gm" x="2.7" y="2.9"/><text class="t" x="5" y="4.4">&lt;&lt;Create&gt;&gt; LeaveCar(CarParkCommands,int)</text><use href="#gm" x="2.7" y="8.2"/><text class="t" x="5" y="9.7">void execute()</text></g></g>
</svg>
